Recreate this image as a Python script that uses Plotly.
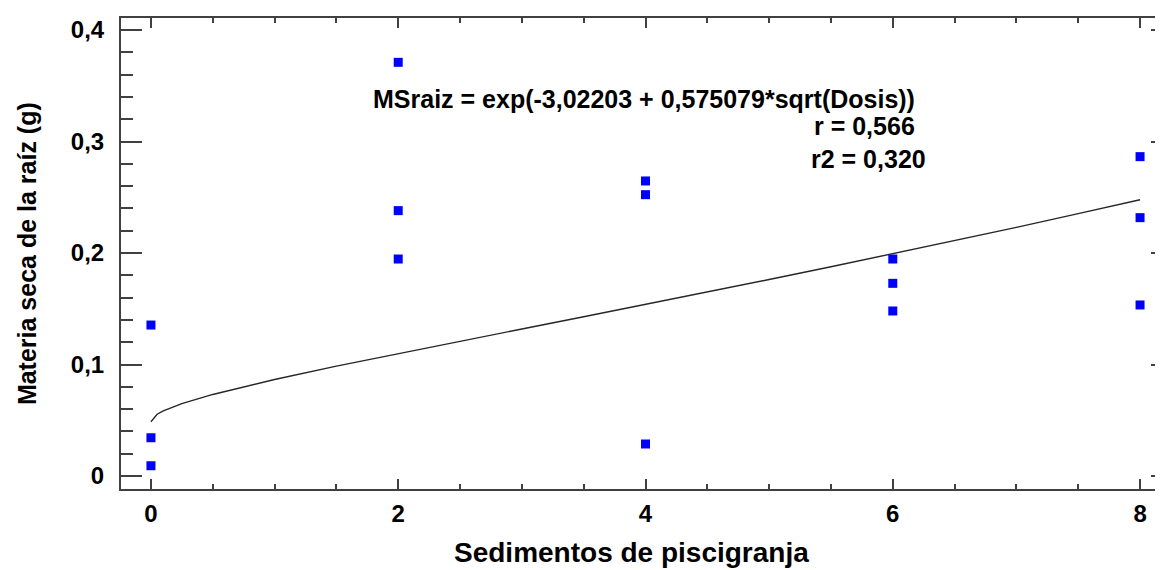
import plotly.graph_objects as go

# ---- data ----
dosis = [0, 0, 0, 2, 2, 2, 4, 4, 4, 6, 6, 6, 8, 8, 8]
ms_raiz = [0.1354, 0.0343, 0.0092,
           0.3710, 0.2380, 0.1946,
           0.2646, 0.2523, 0.0287,
           0.1946, 0.1728, 0.1480,
           0.2864, 0.2317, 0.1534]

# fitted curve MSraiz = exp(-3,02203 + 0,575079*sqrt(Dosis))
curve_x = [0, 0.05, 0.1, 0.25, 0.5, 0.75, 1, 1.5, 2, 2.5, 3, 3.5, 4,
           4.5, 5, 5.5, 6, 6.5, 7, 7.5, 8]
curve_y = [0.04870, 0.05539, 0.05842, 0.06493, 0.07314, 0.08014, 0.08655,
           0.09850, 0.10984, 0.12091, 0.13187, 0.14282, 0.15383, 0.16495,
           0.17620, 0.18761, 0.19921, 0.21101, 0.22302, 0.23525, 0.24772]

x_tickvals = [0, 2, 4, 6, 8]
x_ticktext = ["0", "2", "4", "6", "8"]
y_tickvals = [0, 0.1, 0.2, 0.3, 0.4]
y_ticktext = ["0", "0,1", "0,2", "0,3", "0,4"]

equation_text = "MSraiz = exp(-3,02203 + 0,575079*sqrt(Dosis))"
r_text = "r = 0,566"
r2_text = "r2 = 0,320"
x_title = "Sedimentos de piscigranja"
y_title = "Materia seca de la raíz (g)"

FONT = "Liberation Sans, Arial, sans-serif"
AXC = "#404040"

fig = go.Figure()
fig.add_trace(go.Scatter(x=curve_x, y=curve_y, mode="lines",
                         line=dict(color="#262626", width=1.4),
                         hoverinfo="skip", showlegend=False))
fig.add_trace(go.Scatter(x=dosis, y=ms_raiz, mode="markers",
                         marker=dict(symbol="square", size=9, color="#0000FF",
                                     line=dict(width=0)),
                         showlegend=False))

# the page adds an 8px body margin; the frame's right side lies beyond the visible window
fig.update_layout(
    width=1170, height=570,
    margin=dict(l=113, r=4, t=10, b=89),
    plot_bgcolor="white", paper_bgcolor="white",
    separators=",.",
    showlegend=False,
    font=dict(family=FONT, color="black"),
)

fig.update_xaxes(
    range=[-0.2422, 8.2584],
    showgrid=False, zeroline=False,
    showline=True, linecolor=AXC, linewidth=2, mirror="ticks",
    ticks="inside", ticklen=10, tickwidth=2, tickcolor=AXC,
    tickvals=x_tickvals, ticktext=x_ticktext,
    tickfont=dict(family=FONT, size=24, color="black", weight="bold"),
    ticklabelstandoff=2,
    minor=dict(ticks="inside", ticklen=5, tickwidth=2, tickcolor=AXC, dtick=0.5, showgrid=False),
)
fig.update_yaxes(
    range=[-0.01166, 0.41076],
    showgrid=False, zeroline=False,
    showline=True, linecolor=AXC, linewidth=2, mirror="ticks",
    ticks="inside", ticklen=21, tickwidth=2, tickcolor=AXC,
    tickvals=y_tickvals, ticktext=y_ticktext,
    tickfont=dict(family=FONT, size=24, color="black", weight="bold"),
    ticklabelstandoff=10,
    minor=dict(ticks="inside", ticklen=12, tickwidth=2, tickcolor=AXC, dtick=0.02, showgrid=False),
)

ann_font = dict(family=FONT, size=25, color="black", weight="bold")
fig.add_annotation(text=equation_text, xref="paper", yref="paper",
                   x=0.2374, y=0.828, xanchor="left", yanchor="middle",
                   showarrow=False, font=ann_font)
fig.add_annotation(text=r_text, xref="paper", yref="paper",
                   x=0.6572, y=0.7707, xanchor="left", yanchor="middle",
                   showarrow=False, font=ann_font)
fig.add_annotation(text=r2_text, xref="paper", yref="paper",
                   x=0.6543, y=0.7006, xanchor="left", yanchor="middle",
                   showarrow=False, font=ann_font)
fig.add_annotation(text=x_title, xref="paper", yref="paper",
                   x=0.4857, y=-0.1338, xanchor="center", yanchor="middle",
                   showarrow=False, font=dict(family=FONT, size=28, color="black", weight="bold"))
fig.add_annotation(text=y_title, xref="paper", yref="paper",
                   x=-0.0893, y=0.499, xanchor="center", yanchor="middle",
                   textangle=-90, showarrow=False,
                   font=dict(family=FONT, size=25, color="black", weight="bold"))

fig.write_html("out.html")
